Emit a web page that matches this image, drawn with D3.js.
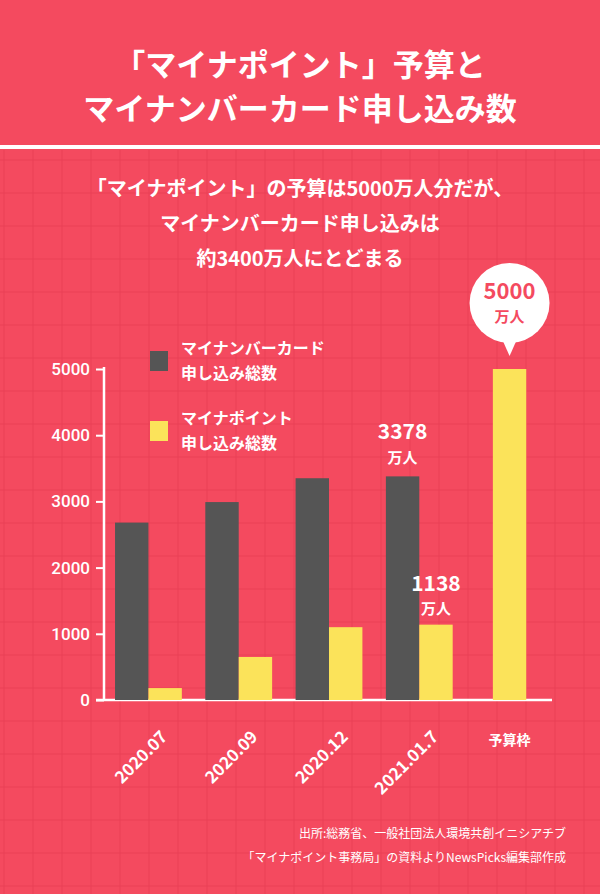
<!DOCTYPE html><html><head><meta charset="utf-8"><script src="https://cdn.jsdelivr.net/npm/d3@7"></script>
<style>body{margin:0}svg{display:block;font-family:"Noto Sans CJK JP",sans-serif}</style></head><body><script>
const categories=["2020.07","2020.09","2020.12","2021.01.7","予算枠"];
const cardValues=[2680,2990,3350,3378,null];
const pointValues=[180,650,1100,1138,5000];
const yTicks=[0,1000,2000,3000,4000,5000];
const W=600,H=894;
const svg=d3.select("body").append("svg").attr("width",W).attr("height",H);
svg.append("rect").attr("width",W).attr("height",H).attr("fill","#f44a5f");
const g0=svg.append("g").attr("stroke","#e63d55").attr("stroke-width",1).attr("opacity",0.7);
for(let x=4;x<W;x+=29)g0.append("line").attr("x1",x).attr("x2",x).attr("y1",150).attr("y2",H);
for(let y=160;y<H;y+=33)g0.append("line").attr("x1",0).attr("x2",W).attr("y1",y).attr("y2",y);
svg.append("rect").attr("y",145).attr("width",W).attr("height",4).attr("fill","#fff");
const T=(t,x,y,s,w=700,a="middle")=>svg.append("text").attr("x",x).attr("y",y).attr("font-size",s).attr("font-weight",w).attr("fill","#fff").attr("text-anchor",a).text(t);
T("「マイナポイント」予算と",300,76,31);
T("マイナンバーカード申し込み数",300,120,31);
T("「マイナポイント」の予算は5000万人分だが、",300,196,20);
T("マイナンバーカード申し込みは",300,231,20);
T("約3400万人にとどまる",300,266,20);
const y=d3.scaleLinear().domain([0,5000]).range([700,369]);
const x=d3.scaleBand().domain(categories).range([106,552]).paddingInner(0.26).paddingOuter(0.1);
const sub=d3.scaleBand().domain([0,1]).range([0,x.bandwidth()]);
const ax=svg.append("g").attr("transform","translate(104,0)").call(d3.axisLeft(y).tickValues(yTicks).tickSize(8).tickFormat(d3.format("d")));
ax.select(".domain").remove();
ax.selectAll("line").attr("stroke","#fff").attr("stroke-width",2);
ax.selectAll("text").attr("fill","#fff").attr("font-size",17).attr("font-family","Roboto").attr("font-weight",500).attr("x",-14);
svg.append("line").attr("x1",104).attr("x2",104).attr("y1",367).attr("y2",701).attr("stroke","#fff").attr("stroke-width",2.5);
svg.append("line").attr("x1",96).attr("x2",552).attr("y1",700).attr("y2",700).attr("stroke","#fff").attr("stroke-width",2.5);
categories.forEach((c,i)=>{
 if(cardValues[i]!=null){
  svg.append("rect").attr("x",x(c)).attr("width",sub.bandwidth()).attr("y",y(cardValues[i])).attr("height",700-y(cardValues[i])).attr("fill","#555555");
  svg.append("rect").attr("x",x(c)+sub(1)).attr("width",sub.bandwidth()).attr("y",y(pointValues[i])).attr("height",700-y(pointValues[i])).attr("fill","#fbe35a");
  svg.append("text").attr("transform",`translate(${x(c)+x.bandwidth()/2+20},738) rotate(-45)`).attr("text-anchor","end").attr("font-size",17).attr("font-weight",700).attr("fill","#fff").text(c);
 } else {
  const bw=sub.bandwidth();const cx=x(c)+x.bandwidth()/2;
  svg.append("rect").attr("x",cx-bw/2).attr("width",bw).attr("y",y(pointValues[i])).attr("height",700-y(pointValues[i])).attr("fill","#fbe35a");
  T(c,cx,745,14);
  svg.append("circle").attr("cx",cx).attr("cy",303).attr("r",40).attr("fill","#fff");
  svg.append("path").attr("d",`M${cx-8},338L${cx+8},338L${cx},356Z`).attr("fill","#fff");
  svg.append("text").attr("x",cx).attr("y",299).attr("text-anchor","middle").attr("font-size",22).attr("font-weight",700).attr("fill","#f44a5f").text(pointValues[i]);
  svg.append("text").attr("x",cx).attr("y",322).attr("text-anchor","middle").attr("font-size",15).attr("font-weight",700).attr("fill","#f44a5f").text("万人");
 }
});
const c3=categories[3];
T(cardValues[3],x(c3)+sub.bandwidth()/2,439,21);T("万人",x(c3)+sub.bandwidth()/2,463,15);
T(pointValues[3],x(c3)+sub(1)+sub.bandwidth()/2,591,21);T("万人",x(c3)+sub(1)+sub.bandwidth()/2,614,15);
svg.append("rect").attr("x",150).attr("y",351).attr("width",18).attr("height",20).attr("fill","#555555");
svg.append("rect").attr("x",150).attr("y",421).attr("width",18).attr("height",20).attr("fill","#fbe35a");
T("マイナンバーカード",181,354,16,700,"start");T("申し込み総数",181,379,16,700,"start");
T("マイナポイント",181,424,16,700,"start");T("申し込み総数",181,449,16,700,"start");
T("出所:総務省、一般社団法人環境共創イニシアチブ",566,838,12,400,"end");
T("「マイナポイント事務局」の資料よりNewsPicks編集部作成",566,862,12,400,"end");
</script></body></html>
